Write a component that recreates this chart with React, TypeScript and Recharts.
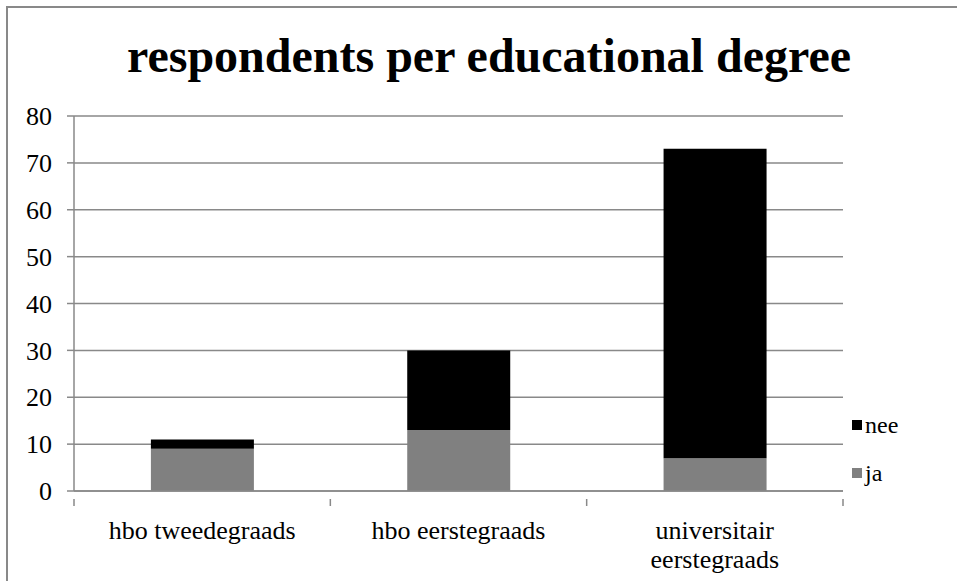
import React from "react";
import { BarChart, Bar, XAxis, YAxis, CartesianGrid } from "recharts";

const degrees = ["hbo tweedegraads", "hbo eerstegraads", "universitair eerstegraads"];
const jaCounts = [9, 13, 7];
const neeCounts = [2, 17, 66];
const yTicks = [0, 10, 20, 30, 40, 50, 60, 70, 80];

const data = degrees.map((name, i) => ({ name, ja: jaCounts[i], nee: neeCounts[i] }));

const W = 957;
const H = 581;
const X_AXIS_H = 90;
const MARGIN = { top: 116, right: 114, bottom: 0, left: 0 };
const Y_AXIS_W = 74;
const GRID = "#898989";
const FONT = "'Liberation Serif', 'Times New Roman', serif";

const bandHalf = (W - MARGIN.right - MARGIN.left - Y_AXIS_W) / degrees.length / 2;

function wrap(label: string): string[] {
  if (label.length <= 20) return [label];
  const i = label.indexOf(" ");
  return [label.slice(0, i), label.slice(i + 1)];
}

// category label plus tick marks on the category boundaries
function DegreeTick(props: any) {
  const { x, y, payload, index } = props;
  const lines = wrap(payload.value);
  return (
    <g>
      <line x1={x - bandHalf} x2={x - bandHalf} y1={y} y2={y + 7} stroke={GRID} strokeWidth={1.5} />
      {index === degrees.length - 1 && (
        <line x1={x + bandHalf} x2={x + bandHalf} y1={y} y2={y + 7} stroke={GRID} strokeWidth={1.5} />
      )}
      {lines.map((l, i) => (
        <text
          key={i}
          x={x}
          y={y + 40 + i * 29}
          textAnchor="middle"
          style={{ fontFamily: FONT }}
          fontSize={26}
          fill="#000"
        >
          {l}
        </text>
      ))}
    </g>
  );
}

function SeriesLegend() {
  const items = [
    { label: "nee", color: "#000000" },
    { label: "ja", color: "#808080" },
  ];
  return (
    <div
      style={{
        position: "absolute",
        left: 852,
        top: 401,
        fontFamily: FONT,
        fontSize: 24,
        color: "#000",
      }}
    >
      {items.map((it) => (
        <div key={it.label} style={{ display: "flex", alignItems: "center", height: 48 }}>
          <span style={{ width: 10, height: 10, background: it.color, marginRight: 3 }} />
          <span>{it.label}</span>
        </div>
      ))}
    </div>
  );
}

export default function App() {
  return (
    <div style={{ position: "absolute", left: 0, top: 0, width: W, height: H, background: "#fff" }}>
      <div
        style={{
          position: "absolute",
          left: 6,
          top: 6,
          right: 0,
          bottom: 0,
          borderLeft: `2px solid ${GRID}`,
          borderTop: `2px solid ${GRID}`,
        }}
      />
      <div
        style={{
          position: "absolute",
          left: 0,
          width: 978,
          top: 26,
          textAlign: "center",
          fontFamily: FONT,
          fontWeight: "bold",
          fontSize: 48,
          lineHeight: "60px",
          color: "#000",
        }}
      >
        respondents per educational degree
      </div>
      <div style={{ position: "absolute", left: 0, top: 0, fontFamily: FONT }}>
        <BarChart width={W} height={H} data={data} margin={MARGIN} barCategoryGap="30%">
          <CartesianGrid vertical={false} stroke={GRID} strokeWidth={1.5} />
          <XAxis
            dataKey="name"
            tickLine={false}
            axisLine={{ stroke: GRID, strokeWidth: 1.5 }}
            tick={<DegreeTick />}
            interval={0}
            height={X_AXIS_H}
          />
          <YAxis
            width={Y_AXIS_W}
            domain={[0, 80]}
            ticks={yTicks}
            interval={0}
            tickSize={7}
            tickMargin={15}
            axisLine={{ stroke: GRID, strokeWidth: 1.5 }}
            tickLine={{ stroke: GRID, strokeWidth: 1.5 }}
            tick={{ fontFamily: FONT, fontSize: 26, fill: "#000" }}
          />
          <Bar dataKey="ja" stackId="s" fill="#808080" isAnimationActive={false} />
          <Bar dataKey="nee" stackId="s" fill="#000000" isAnimationActive={false} />
        </BarChart>
      </div>
      <SeriesLegend />
    </div>
  );
}
